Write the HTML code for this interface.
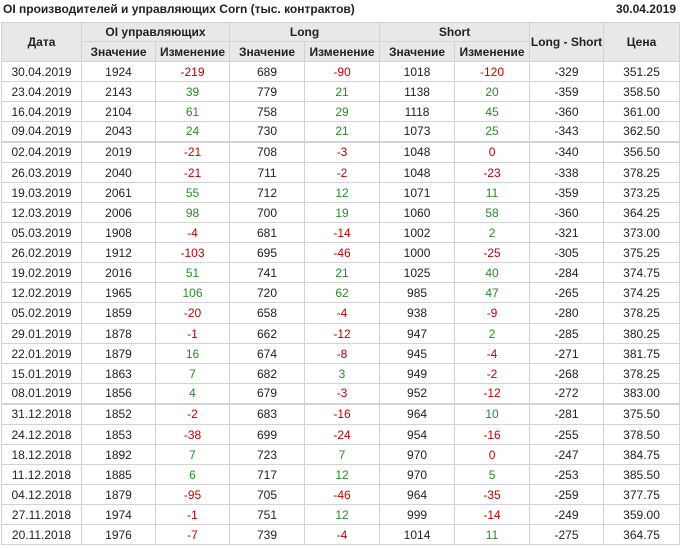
<!DOCTYPE html>
<html><head><meta charset="utf-8">
<style>
html,body{margin:0;padding:0;background:#fff;width:680px;height:548px;overflow:hidden;}
body{font-family:"Liberation Sans",Arial,sans-serif;font-size:12px;color:#222;position:relative;}
.t{position:absolute;top:1px;left:3px;font-weight:bold;font-size:12px;line-height:16px;color:#222;}
.d{position:absolute;top:1px;right:4px;font-weight:bold;font-size:12px;line-height:16px;color:#222;}
table{position:absolute;left:1px;top:22px;border-collapse:collapse;table-layout:fixed;width:678px;}
td,th{border:1px solid #d3d3d3;text-align:center;padding:0;line-height:14px;white-space:nowrap;overflow:hidden;}
th{background:#e8e8e8;font-weight:bold;color:#222;}
tr.h1{height:19px;}
tr.h2{height:20px;}
tbody tr{height:20px;}
tbody tr.x{height:21px;}
tr.s{height:21px !important;}
tr.s td{border-top:2px solid #d3d3d3;}
.r{color:#c40000;}
.g{color:#2a8a2a;}
</style></head><body>
<div class="t">OI производителей и управляющих Corn (тыс. контрактов)</div>
<div class="d">30.04.2019</div>
<table>
<colgroup><col style="width:80px"><col style="width:74px"><col style="width:74px"><col style="width:75px"><col style="width:75px"><col style="width:75px"><col style="width:75px"><col style="width:74px"><col style="width:76px"></colgroup>
<thead>
<tr class="h1"><th rowspan="2">Дата</th><th colspan="2">OI управляющих</th><th colspan="2">Long</th><th colspan="2">Short</th><th rowspan="2">Long - Short</th><th rowspan="2">Цена</th></tr>
<tr class="h2"><th>Значение</th><th>Изменение</th><th>Значение</th><th>Изменение</th><th>Значение</th><th>Изменение</th></tr>
</thead>
<tbody>
<tr><td>30.04.2019</td><td>1924</td><td class="r">-219</td><td>689</td><td class="r">-90</td><td>1018</td><td class="r">-120</td><td>-329</td><td>351.25</td></tr>
<tr><td>23.04.2019</td><td>2143</td><td class="g">39</td><td>779</td><td class="g">21</td><td>1138</td><td class="g">20</td><td>-359</td><td>358.50</td></tr>
<tr><td>16.04.2019</td><td>2104</td><td class="g">61</td><td>758</td><td class="g">29</td><td>1118</td><td class="g">45</td><td>-360</td><td>361.00</td></tr>
<tr><td>09.04.2019</td><td>2043</td><td class="g">24</td><td>730</td><td class="g">21</td><td>1073</td><td class="g">25</td><td>-343</td><td>362.50</td></tr>
<tr class="s"><td>02.04.2019</td><td>2019</td><td class="r">-21</td><td>708</td><td class="r">-3</td><td>1048</td><td class="r">0</td><td>-340</td><td>356.50</td></tr>
<tr><td>26.03.2019</td><td>2040</td><td class="r">-21</td><td>711</td><td class="r">-2</td><td>1048</td><td class="r">-23</td><td>-338</td><td>378.25</td></tr>
<tr><td>19.03.2019</td><td>2061</td><td class="g">55</td><td>712</td><td class="g">12</td><td>1071</td><td class="g">11</td><td>-359</td><td>373.25</td></tr>
<tr><td>12.03.2019</td><td>2006</td><td class="g">98</td><td>700</td><td class="g">19</td><td>1060</td><td class="g">58</td><td>-360</td><td>364.25</td></tr>
<tr><td>05.03.2019</td><td>1908</td><td class="r">-4</td><td>681</td><td class="r">-14</td><td>1002</td><td class="g">2</td><td>-321</td><td>373.00</td></tr>
<tr><td>26.02.2019</td><td>1912</td><td class="r">-103</td><td>695</td><td class="r">-46</td><td>1000</td><td class="r">-25</td><td>-305</td><td>375.25</td></tr>
<tr><td>19.02.2019</td><td>2016</td><td class="g">51</td><td>741</td><td class="g">21</td><td>1025</td><td class="g">40</td><td>-284</td><td>374.75</td></tr>
<tr><td>12.02.2019</td><td>1965</td><td class="g">106</td><td>720</td><td class="g">62</td><td>985</td><td class="g">47</td><td>-265</td><td>374.25</td></tr>
<tr class="x"><td>05.02.2019</td><td>1859</td><td class="r">-20</td><td>658</td><td class="r">-4</td><td>938</td><td class="r">-9</td><td>-280</td><td>378.25</td></tr>
<tr><td>29.01.2019</td><td>1878</td><td class="r">-1</td><td>662</td><td class="r">-12</td><td>947</td><td class="g">2</td><td>-285</td><td>380.25</td></tr>
<tr><td>22.01.2019</td><td>1879</td><td class="g">16</td><td>674</td><td class="r">-8</td><td>945</td><td class="r">-4</td><td>-271</td><td>381.75</td></tr>
<tr><td>15.01.2019</td><td>1863</td><td class="g">7</td><td>682</td><td class="g">3</td><td>949</td><td class="r">-2</td><td>-268</td><td>378.25</td></tr>
<tr><td>08.01.2019</td><td>1856</td><td class="g">4</td><td>679</td><td class="r">-3</td><td>952</td><td class="r">-12</td><td>-272</td><td>383.00</td></tr>
<tr class="s"><td>31.12.2018</td><td>1852</td><td class="r">-2</td><td>683</td><td class="r">-16</td><td>964</td><td class="g">10</td><td>-281</td><td>375.50</td></tr>
<tr><td>24.12.2018</td><td>1853</td><td class="r">-38</td><td>699</td><td class="r">-24</td><td>954</td><td class="r">-16</td><td>-255</td><td>378.50</td></tr>
<tr><td>18.12.2018</td><td>1892</td><td class="g">7</td><td>723</td><td class="g">7</td><td>970</td><td class="r">0</td><td>-247</td><td>384.75</td></tr>
<tr><td>11.12.2018</td><td>1885</td><td class="g">6</td><td>717</td><td class="g">12</td><td>970</td><td class="g">5</td><td>-253</td><td>385.50</td></tr>
<tr><td>04.12.2018</td><td>1879</td><td class="r">-95</td><td>705</td><td class="r">-46</td><td>964</td><td class="r">-35</td><td>-259</td><td>377.75</td></tr>
<tr><td>27.11.2018</td><td>1974</td><td class="r">-1</td><td>751</td><td class="g">12</td><td>999</td><td class="r">-14</td><td>-249</td><td>359.00</td></tr>
<tr><td>20.11.2018</td><td>1976</td><td class="r">-7</td><td>739</td><td class="r">-4</td><td>1014</td><td class="g">11</td><td>-275</td><td>364.75</td></tr>
</tbody>
</table>
</body></html>
